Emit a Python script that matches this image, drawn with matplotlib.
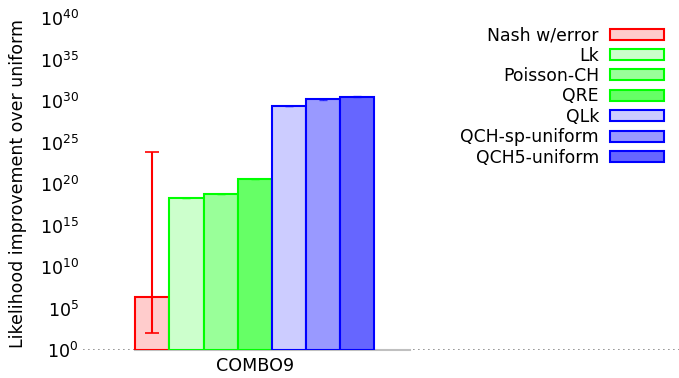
import numpy as np
import matplotlib
matplotlib.use("Agg")
import matplotlib.pyplot as plt
from matplotlib.ticker import FixedLocator, LogFormatterMathtext

# log10 of likelihood improvement over uniform, one bar per model
models = ["Nash w/error", "Lk", "Poisson-CH", "QRE", "QLk", "QCH-sp-uniform", "QCH5-uniform"]
log_values = [6.4, 18.3, 18.8, 20.6, 29.4, 30.2, 30.5]
log_err_low = [2.0, 18.27, 18.77, 20.57, 29.35, 30.15, 30.45]
log_err_high = [23.85, 18.33, 18.83, 20.63, 29.45, 30.25, 30.55]
categories = ["COMBO9"]

face_colors = ["#ffcccc", "#ccffcc", "#99ff99", "#66ff66", "#ccccff", "#9999ff", "#6666ff"]
edge_colors = ["#ff0000", "#00ff00", "#00ff00", "#00ff00", "#0000ff", "#0000ff", "#0000ff"]

fig = plt.figure(figsize=(6.79, 3.78), dpi=100)
ax = fig.add_axes([0.1222, 0.0741, 0.8778, 0.8783])

n = len(models)
group_width = 0.8
bar_w = group_width / n
for i, name in enumerate(models):
    x = -group_width / 2 + bar_w * (i + 0.5)
    v = 10 ** log_values[i]
    lo = v - 10 ** log_err_low[i]
    hi = 10 ** log_err_high[i] - v
    ax.bar(x, v - 1, bottom=1, width=bar_w, color=face_colors[i],
           edgecolor=edge_colors[i], linewidth=1.5, label=name, zorder=2)
    if i == 0:
        ax.errorbar(x, v, yerr=[[lo], [hi]], fmt="none", ecolor=edge_colors[i],
                    elinewidth=1.5, capsize=5, capthick=1.2, zorder=3)
    else:
        ax.errorbar(x, v, yerr=[[lo], [hi]], fmt="none", ecolor=edge_colors[i],
                    elinewidth=1.0, capsize=3, capthick=1.0, alpha=0.6, zorder=3)

ax.set_yscale("log")
ax.set_ylim(1, 1e40)
ax.set_xlim(-0.575, 1.42)

# baseline: dotted across, solid grey under the group
ax.axhline(1, color="#888888", linestyle=(0, (1, 2)), linewidth=1.2, zorder=1)
ax.plot([-group_width / 2, 0.52], [1, 1], color="#c0c0c0", linewidth=1.5, zorder=1.5,
        clip_on=False)

ax.yaxis.set_major_locator(FixedLocator([10.0 ** k for k in range(0, 41, 5)]))
ax.yaxis.set_minor_locator(FixedLocator([]))
ax.yaxis.set_major_formatter(LogFormatterMathtext())
ax.set_xticks([0])
ax.set_xticklabels(categories)
ax.tick_params(axis="y", length=0, labelsize=12.6, pad=3)
ax.tick_params(axis="x", length=0, labelsize=12.6, pad=5)
ax.set_ylabel("Likelihood improvement over uniform", fontsize=12.5, labelpad=9)

for s in ax.spines.values():
    s.set_visible(False)

ax.legend(loc="upper right", bbox_to_anchor=(1.0, 1.022), frameon=False,
          markerfirst=False, fontsize=12.4, handlelength=3.1, handleheight=0.6,
          labelspacing=0.14, handletextpad=0.65, borderaxespad=0.5)

fig.savefig("out.png", dpi=100)
